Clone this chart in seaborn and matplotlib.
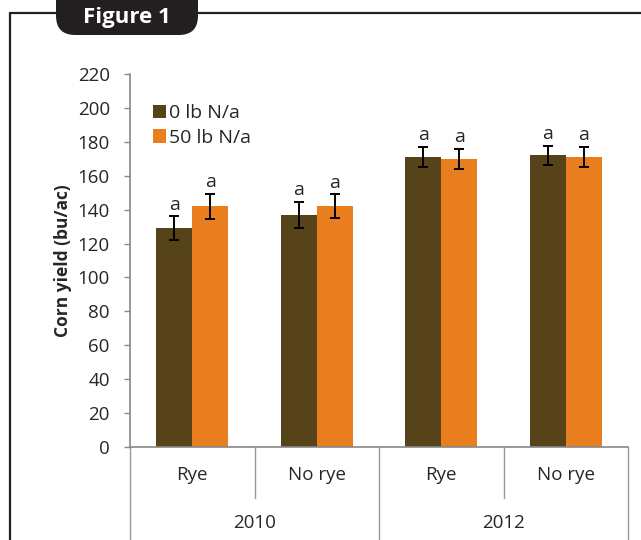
import pandas as pd
import matplotlib.pyplot as plt
import seaborn as sns
from matplotlib.patches import FancyBboxPatch
from matplotlib.lines import Line2D
import matplotlib.transforms as mtransforms

# DATA
years = ['2010', '2010', '2012', '2012']
cover = ['Rye', 'No rye', 'Rye', 'No rye']
treatments = ['0 lb N/a', '50 lb N/a']
yield_0n = [129, 137, 171, 172]
yield_50n = [142, 142, 170, 171]
err_0n = [7, 7.7, 6, 5.6]
err_50n = [7.5, 7, 6, 6]
letters_0n = ['a', 'a', 'a', 'a']
letters_50n = ['a', 'a', 'a', 'a']

colors = ['#574319', '#E97E1F']

rows = []
for i in range(len(cover)):
    key = f'{years[i]}-{cover[i]}'
    rows.append({'group': key, 'trt': treatments[0], 'yield': yield_0n[i], 'err': err_0n[i], 'lab': letters_0n[i]})
    rows.append({'group': key, 'trt': treatments[1], 'yield': yield_50n[i], 'err': err_50n[i], 'lab': letters_50n[i]})
df = pd.DataFrame(rows)
order = [f'{y}-{c}' for y, c in zip(years, cover)]

sns.set_style('white')
plt.rcParams['font.family'] = ['Open Sans', 'DejaVu Sans']

fig = plt.figure(figsize=(6.41, 5.4), dpi=100)
ax = fig.add_axes([130 / 641, 1 - 447 / 540, 498 / 641, 373 / 540])

sns.barplot(data=df, x='group', y='yield', hue='trt', order=order, hue_order=treatments,
            palette=colors, width=0.58, errorbar=None, saturation=1, ax=ax,
            edgecolor='none', linewidth=0)

# error bars and letters, matched to the bar patches
for cont, trt in zip(ax.containers, treatments):
    sub = df[df['trt'] == trt].set_index('group').loc[order]
    for bar, (_, r) in zip(cont, sub.iterrows()):
        xc = bar.get_x() + bar.get_width() / 2
        ax.errorbar(xc, r['yield'], yerr=r['err'], color='black', capsize=3.6,
                    elinewidth=1.4, capthick=1.4, zorder=5)
        ax.text(xc, r['yield'] + r['err'] + 1.5, r['lab'], ha='center', va='bottom', fontsize=14)

ax.set_ylim(0, 220)
ax.set_xlim(-0.5, 3.5)
ax.set_yticks(range(0, 221, 20))
ax.tick_params(axis='y', labelsize=13.5, length=4.5, width=1, color='#888888', direction='out', pad=10, left=True)
ax.tick_params(axis='x', bottom=False, labelbottom=False)
ax.set_xlabel('')
ax.set_ylabel('Corn yield (bu/ac)', fontsize=12.5, fontweight='bold', labelpad=4)

for s in ['top', 'right']:
    ax.spines[s].set_visible(False)
for s in ['left', 'bottom']:
    ax.spines[s].set_color('#888888')
    ax.spines[s].set_linewidth(1.2)

# multi-level category axis
trans = mtransforms.blended_transform_factory(ax.transData, ax.transAxes)
for b in [-0.5, 1.5, 3.5]:
    ax.add_line(Line2D([b, b], [0, -0.26], transform=trans, color='#999999', lw=1, clip_on=False))
for b in [0.5, 2.5]:
    ax.add_line(Line2D([b, b], [0, -0.137], transform=trans, color='#999999', lw=1, clip_on=False))
for i, c in enumerate(cover):
    ax.text(i, -0.075, c, transform=trans, ha='center', va='center', fontsize=13.5)
for j, y in enumerate(['2010', '2012']):
    ax.text(2 * j + 0.5, -0.204, y, transform=trans, ha='center', va='center', fontsize=13.5)

ax.legend(loc='upper left', bbox_to_anchor=(0.03, 0.94), frameon=False, fontsize=14,
          handlelength=0.7, handleheight=0.7, handletextpad=0.15, labelspacing=0.35,
          borderaxespad=0)

# outer frame and figure tab
fig.add_artist(Line2D([10 / 641, 10 / 641], [0, 1 - 13 / 540], color='#222222', lw=1.6))
fig.add_artist(Line2D([10 / 641, 1], [1 - 13 / 540, 1 - 13 / 540], color='#222222', lw=1.6))
tab = FancyBboxPatch((56 / 641, 1 - 35 / 540), 142 / 641, 60 / 540,
                     boxstyle='round,pad=0,rounding_size=0.03', transform=fig.transFigure,
                     facecolor='#231f20', edgecolor='none', mutation_aspect=641 / 540)
fig.add_artist(tab)
fig.text(127 / 641, 1 - 17 / 540, 'Figure 1', color='white', fontsize=16, fontweight='bold',
         ha='center', va='center')

fig.savefig('out.png', dpi=100)
